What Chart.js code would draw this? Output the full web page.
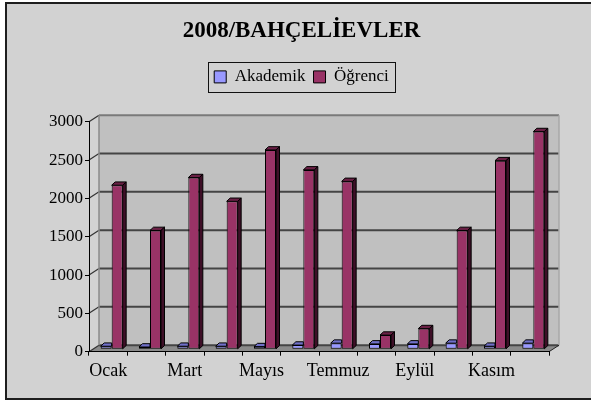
<!DOCTYPE html>
<html><head><meta charset="utf-8">
<script src="https://cdn.jsdelivr.net/npm/chart.js@4/dist/chart.umd.min.js"></script>
<style>html,body{margin:0;padding:0;background:#fff}canvas{display:block}</style>
</head><body>
<canvas id="c" width="591" height="403"></canvas>
<script>
const months = ['Ocak','Şubat','Mart','Nisan','Mayıs','Haziran','Temmuz','Ağustos','Eylül','Ekim','Kasım','Aralık'];
const akademik = [40, 30, 40, 40, 35, 55, 80, 70, 70, 80, 40, 80];
const ogrenci = [2140, 1550, 2240, 1930, 2600, 2340, 2190, 185, 270, 1550, 2460, 2840];
const seriesNames = ['Akademik', 'Öğrenci'];
const titleText = '2008/BAHÇELİEVLER';
const yMin = 0, yMax = 3000, yStep = 500;

const WALL = {dx: 10, dy: 6.5};
const SHIFT = {dx: 3.5, dy: 2.4};
const BD = {dx: 3.5, dy: 3.3};
const SERIF = 'Liberation Serif';

function poly(ctx, pts, fill, stroke, lw) {
  ctx.beginPath();
  ctx.moveTo(pts[0][0], pts[0][1]);
  for (let i = 1; i < pts.length; i++) ctx.lineTo(pts[i][0], pts[i][1]);
  ctx.closePath();
  if (fill) { ctx.fillStyle = fill; ctx.fill(); }
  if (stroke) { ctx.strokeStyle = stroke; ctx.lineWidth = lw || 1; ctx.stroke(); }
}
function line(ctx, x1, y1, x2, y2, color, lw) {
  ctx.beginPath(); ctx.moveTo(x1, y1); ctx.lineTo(x2, y2);
  ctx.strokeStyle = color; ctx.lineWidth = lw; ctx.stroke();
}

const scene3d = {
  id: 'scene3d',
  beforeDraw(chart) {
    const ctx = chart.ctx, W = chart.width, H = chart.height;
    const {left, right, top, bottom} = chart.chartArea;
    const ys = chart.scales.y;
    ctx.save();
    ctx.fillStyle = '#ffffff'; ctx.fillRect(0, 0, W, H);
    ctx.fillStyle = '#d2d2d2'; ctx.fillRect(6, 3, W, 396);
    ctx.strokeStyle = '#1e1e1e'; ctx.lineWidth = 2; ctx.strokeRect(6, 3, W + 20, 396);
    ctx.fillStyle = '#c0c0c0';
    ctx.fillRect(left + WALL.dx, top - WALL.dy, right - left, bottom - top);
    poly(ctx, [[left, bottom], [right, bottom], [right + WALL.dx, bottom - WALL.dy], [left + WALL.dx, bottom - WALL.dy]], '#8a8a8a');
    ys.ticks.forEach(t => {
      const py = ys.getPixelForValue(t.value);
      if (t.value < yMax) line(ctx, left + WALL.dx, py - WALL.dy, right + WALL.dx, py - WALL.dy, '#444444', 2);
      line(ctx, left, py, left + WALL.dx, py - WALL.dy, '#333333', 1.2);
    });
    line(ctx, left + WALL.dx, top - WALL.dy, right + WALL.dx, top - WALL.dy, '#7a7a7a', 2);
    line(ctx, left + WALL.dx, top - WALL.dy, left + WALL.dx, bottom - WALL.dy, '#8a8a8a', 1.5);
    line(ctx, right + WALL.dx, top - WALL.dy, right + WALL.dx, bottom - WALL.dy, '#a8a8a8', 1.5);
    line(ctx, right, bottom, right + WALL.dx, bottom - WALL.dy, '#222222', 1);
    ctx.restore();
  },
  beforeDatasetsDraw(chart) {
    chart.ctx.save();
    chart.ctx.translate(SHIFT.dx, -SHIFT.dy);
  },
  afterDatasetsDraw(chart) {
    const ctx = chart.ctx;
    const m0 = chart.getDatasetMeta(0), m1 = chart.getDatasetMeta(1);
    m0.data.forEach(bar => {
      const p = bar.getProps(['x', 'y', 'width'], true);
      const x1 = p.x - p.width / 2, x2 = p.x + p.width / 2;
      poly(ctx, [[x1, p.y], [x1 + BD.dx, p.y - BD.dy], [x2, p.y - BD.dy], [x2, p.y]], '#7070c8', '#000', 1);
    });
    m1.data.forEach(bar => {
      const p = bar.getProps(['x', 'y', 'base', 'width'], true);
      const x1 = p.x - p.width / 2, x2 = p.x + p.width / 2;
      poly(ctx, [[x1, p.y], [x1 + BD.dx, p.y - BD.dy], [x2 + BD.dx, p.y - BD.dy], [x2, p.y]], '#6a2045', '#000', 1);
      poly(ctx, [[x2, p.y], [x2 + BD.dx, p.y - BD.dy], [x2 + BD.dx, p.base - BD.dy], [x2, p.base]], '#3e0f27', '#000', 1);
    });
    ctx.restore();
  },
  afterDraw(chart) {
    const hb = chart.legend.legendHitBoxes;
    if (!hb || !hb.length) return;
    const ctx = chart.ctx;
    const l = hb[0].left - 6.5, r = hb[hb.length - 1].left + hb[hb.length - 1].width + 5.5;
    const t = hb[0].top - 6.5, b = hb[0].top + hb[0].height + 6.5;
    ctx.save();
    ctx.strokeStyle = '#111'; ctx.lineWidth = 1;
    ctx.strokeRect(Math.round(l) + 0.5, Math.round(t) + 0.5, Math.round(r - l), Math.round(b - t));
    ctx.restore();
  }
};

new Chart(document.getElementById('c'), {
  type: 'bar',
  data: {
    labels: months,
    datasets: [
      {label: seriesNames[0], data: akademik, backgroundColor: '#9999ff', borderColor: '#000', borderWidth: 1, borderSkipped: false, xAxisID: 'x', yAxisID: 'y', clip: false},
      {label: seriesNames[1], data: ogrenci, backgroundColor: '#993366', borderColor: '#000', borderWidth: 1, borderSkipped: false, xAxisID: 'x', yAxisID: 'y', clip: false}
    ]
  },
  options: {
    responsive: false,
    animation: false,
    devicePixelRatio: 1,
    layout: {padding: {left: 12, right: 0, top: 0, bottom: 0}},
    datasets: {bar: {categoryPercentage: 0.574, barPercentage: 1}},
    plugins: {
      title: {display: true, text: titleText, color: '#000', font: {family: SERIF, size: 23, weight: 'bold'}, padding: {top: 17, bottom: 15.8}},
      legend: {display: true, position: 'top', labels: {color: '#000', font: {family: SERIF, size: 17}, boxWidth: 12, boxHeight: 12, padding: 8}},
      tooltip: {enabled: false}
    },
    scales: {
      x: {
        type: 'category', position: 'bottom', offset: true,
        grid: {display: true, offset: true, drawOnChartArea: false, drawTicks: true, tickLength: 4, color: '#000', lineWidth: 1},
        border: {display: true, color: '#000', width: 1},
        ticks: {autoSkip: false, maxRotation: 0, minRotation: 0, padding: 5, color: '#000', font: {family: SERIF, size: 18},
          callback: (v, i) => (i % 2 === 0 ? months[i] : '')},
        afterFit: s => { s.height = 51.3; }
      },
      y: {
        type: 'linear', position: 'left', min: yMin, max: yMax,
        grid: {display: true, drawOnChartArea: false, drawTicks: true, tickLength: 4, color: '#000', lineWidth: 1},
        border: {display: true, color: '#000', width: 1},
        ticks: {stepSize: yStep, padding: 2, color: '#000', font: {family: SERIF, size: 17}, callback: v => String(v)},
        afterFit: s => { s.width = 77; }
      },
      xT: {
        axis: 'x', type: 'category', position: 'top', display: true,
        grid: {display: false}, border: {display: false}, ticks: {display: false},
        afterFit: s => { s.height = 26.3; }
      },
      yR: {
        axis: 'y', type: 'linear', position: 'right', display: true,
        grid: {display: false}, border: {display: false}, ticks: {display: false},
        afterFit: s => { s.width = 42; }
      }
    }
  },
  plugins: [scene3d]
});
</script>
</body></html>
